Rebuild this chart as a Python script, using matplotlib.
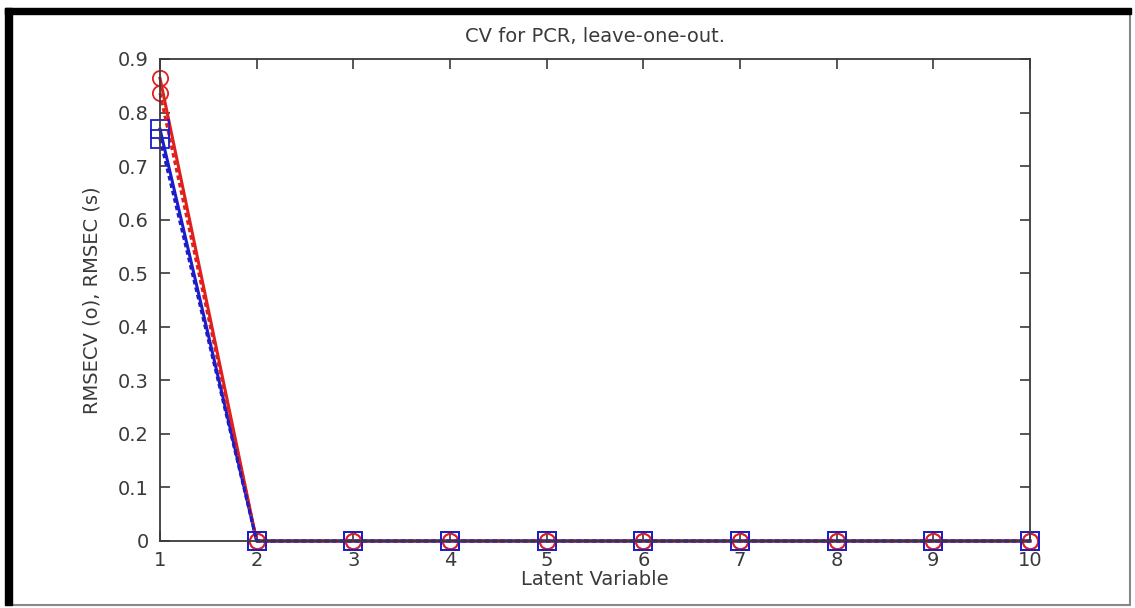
import matplotlib
matplotlib.use("Agg")
import matplotlib.pyplot as plt
from matplotlib.patches import Rectangle

# ---------------------------------------------
# DATA
# ---------------------------------------------

latent = [1, 2, 3, 4, 5, 6, 7, 8, 9, 10]
rmsecv_a = [0.864, 0, 0, 0, 0, 0, 0, 0, 0, 0]
rmsecv_b = [0.836, 0, 0, 0, 0, 0, 0, 0, 0, 0]
rmsec_a = [0.769, 0, 0, 0, 0, 0, 0, 0, 0, 0]
rmsec_b = [0.751, 0, 0, 0, 0, 0, 0, 0, 0, 0]

plt.rcParams["font.family"] = ["DejaVu Sans"]
text_color = "#3a3a3a"

fig = plt.figure(figsize=(11.35, 6.08), dpi=100)
ax = fig.add_axes([160 / 1135, 1 - 541 / 608, 870 / 1135, 482 / 608])

# ---------------------------------------------
# LINES
# ---------------------------------------------

style = dict(markerfacecolor="none", markeredgewidth=1.3, linewidth=2.2, clip_on=False)
dots = (0, (1.5, 1))
ax.plot(latent, rmsecv_a, color="#e0201c", linestyle="-", marker="o", markersize=11, **style)
ax.plot(latent, rmsec_a, color="#1c1cc8", linestyle="-", marker="s", markersize=13, **style)
ax.plot(latent, rmsecv_b, color="#e0201c", linestyle=dots, marker="o", markersize=11, **style)
ax.plot(latent, rmsec_b, color="#1c1cc8", linestyle=dots, marker="s", markersize=13, **style)

ax.set_xlim(1, 10)
ax.set_ylim(0, 0.9)
ax.set_xticks(latent)
ax.set_yticks([0, 0.1, 0.2, 0.3, 0.4, 0.5, 0.6, 0.7, 0.8, 0.9])
ax.set_yticklabels(["0", "0.1", "0.2", "0.3", "0.4", "0.5", "0.6", "0.7", "0.8", "0.9"])

ax.tick_params(direction="in", length=7, width=1.2, top=True, right=True,
               labelsize=14, colors=text_color)
ax.tick_params(axis="x", pad=7)
ax.tick_params(axis="y", pad=8)
for s in ax.spines.values():
    s.set_linewidth(1.3)
    s.set_color(text_color)

ax.set_title("CV for PCR, leave-one-out.", fontsize=14, color=text_color, pad=12)
ax.set_xlabel("Latent Variable", fontsize=14, color=text_color, labelpad=0)
ax.set_ylabel("RMSECV (o), RMSEC (s)", fontsize=14, color=text_color, labelpad=12)

# ---------------------------------------------
# FRAME AROUND THE PICTURE
# ---------------------------------------------

fig.patches.append(Rectangle((8 / 1135, 3 / 608), 1122 / 1135, 594 / 608,
                             transform=fig.transFigure, fill=False,
                             edgecolor="#888888", linewidth=1.5))
fig.patches.append(Rectangle((5 / 1135, 3 / 608), 7 / 1135, 597 / 608,
                             transform=fig.transFigure, color="black"))
fig.patches.append(Rectangle((5 / 1135, 594 / 608), 1126 / 1135, 6 / 608,
                             transform=fig.transFigure, color="black"))

fig.savefig("out.png", dpi=100)
